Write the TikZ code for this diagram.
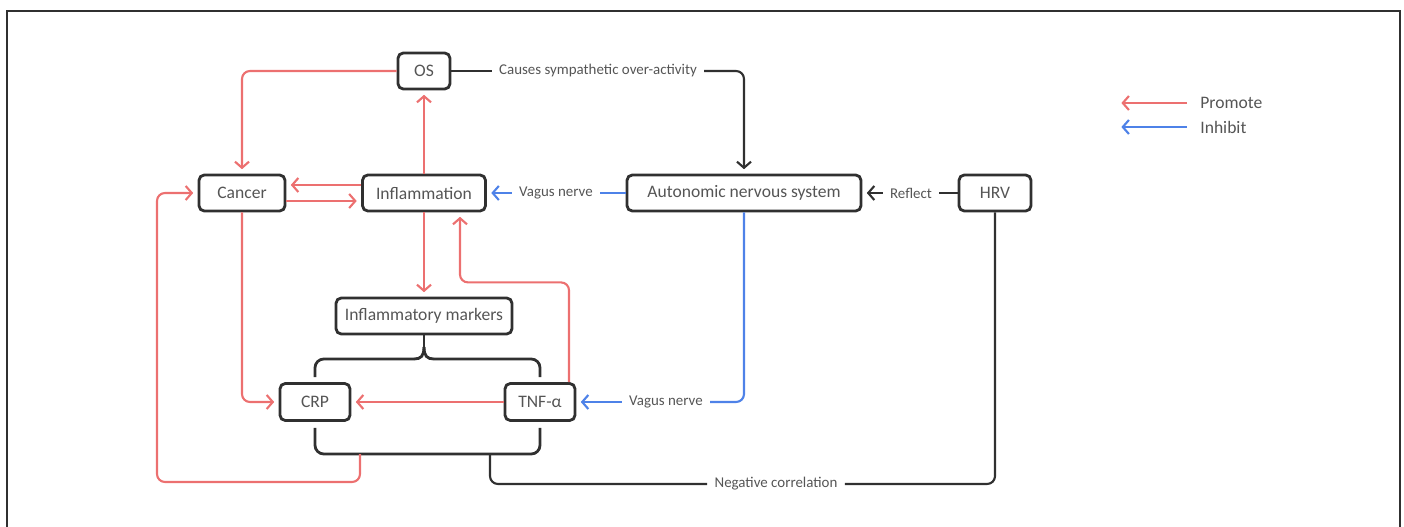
\documentclass[tikz,border=0pt]{standalone}
\usepackage{fontspec}
\setmainfont{Carlito}
\usetikzlibrary{calc, arrows.meta}

\definecolor{promotered}{RGB}{236,112,112}
\definecolor{inhibitblue}{RGB}{78,130,232}
\definecolor{boxgray}{RGB}{48,48,48}
\definecolor{textgray}{RGB}{85,85,85}

\begin{document}
\begin{tikzpicture}[x=0.02cm, y=-0.02cm,
  box/.style={draw=boxgray, line width=1.6pt, rounded corners=3pt, minimum height=0.72cm,
    text=textgray, font=\fontsize{10}{12}\selectfont},
  lab/.style={text=textgray, font=\fontsize{8.5}{10}\selectfont, inner sep=4pt},
  tip/.style={-{Straight Barb[length=3.5pt, width=8pt]}, shorten >=2.5pt},
  promote/.style={promotered, line width=1.2pt, rounded corners=4.5pt},
  inhibit/.style={inhibitblue, line width=1.2pt, rounded corners=4.5pt},
  link/.style={boxgray, line width=1.2pt, rounded corners=4.5pt},
  bracket/.style={boxgray, line width=1.6pt, rounded corners=5pt},
  curl/.style={boxgray, line width=1.6pt}]
  \useasboundingbox (0,0) rectangle (1404,527);

  % frame, open at the bottom
  \draw[boxgray, line width=1.1pt] (7,527) -- (7,11) -- (1400,11) -- (1400,527);

  % boxes
  \node[box, minimum width=1.04cm] (os)      at (424,71)  {OS};
  \node[box, minimum width=1.72cm] (cancer)  at (242,193) {Cancer};
  \node[box, minimum width=2.46cm] (infl)    at (424,193) {Inflammation};
  \node[box, minimum width=4.68cm] (ans)     at (744,193) {Autonomic nervous system};
  \node[box, minimum width=1.44cm] (hrv)     at (995,193) {HRV};
  \node[box, minimum width=3.52cm] (markers) at (424,316) {Inflammatory markers};
  \node[box, minimum width=1.40cm, minimum height=0.74cm] (crp) at (315,402) {CRP};
  \node[box, minimum width=1.40cm, minimum height=0.74cm] (tnf) at (540,402) {TNF-α};

  % edge labels
  \node[lab] (causes)   at (598,71)  {Causes sympathetic over-activity};
  \node[lab] (vagustop) at (556,193) {Vagus nerve};
  \node[lab] (reflect)  at (911,193) {Reflect};
  \node[lab] (vagusbot) at (666,402) {Vagus nerve};
  \node[lab] (negcorr)  at (776,484) {Negative correlation};

  % promote (red)
  \draw[promote, tip] (os.west) -| (cancer.north);
  \draw[promote, tip] (infl.north) -- (os.south);
  \draw[promote, tip] ([yshift=0.16cm]infl.west) -- ([yshift=0.16cm]cancer.east);
  \draw[promote, tip] ([yshift=-0.16cm]cancer.east) -- ([yshift=-0.16cm]infl.west);
  \draw[promote, tip] (infl.south) -- (markers.north);
  \draw[promote, tip] (cancer.south) |- (crp.west);
  \draw[promote, tip] (tnf.west) -- (crp.east);
  \draw[promote, tip] ([xshift=0.58cm]tnf.north) |- ($(infl.south)+(36,70)$) -- ([xshift=0.72cm]infl.south);

  % inhibit (blue)
  \draw[inhibit] (ans.west) -- (vagustop.east);
  \draw[inhibit, tip] (vagustop.west) -- (infl.east);
  \draw[inhibit] (ans.south) |- (vagusbot.east);
  \draw[inhibit, tip] (vagusbot.west) -- (tnf.east);

  % black links
  \draw[link] (os.east) -- (causes.west);
  \draw[link, tip] (causes.east) -| (ans.north);
  \draw[link] (hrv.west) -- (reflect.east);
  \draw[link, tip] (reflect.west) -- (ans.east);

  % brace over CRP and TNF
  \coordinate (bracetip) at (424,347);
  \draw[bracket] ($(crp.north)+(0,-5)$) -- (315,359) -- (414,359);
  \draw[bracket] ($(tnf.north)+(0,-5)$) -- (540,359) -- (434,359);
  \draw[curl] (414,359) .. controls (421,359) and (424,356) .. (bracetip);
  \draw[curl] (434,359) .. controls (427,359) and (424,356) .. (bracetip);
  \draw[curl] (bracetip) -- (markers.south);
  % lower bracket
  \draw[bracket] ($(crp.south)+(0,6)$) -- (315,454) -- (540,454) -- ($(tnf.south)+(0,6)$);

  % links from the lower bracket
  \coordinate (lowtap) at (360,454);
  \coordinate (negtap) at (490,454);
  \draw[promote, tip] (lowtap) |- (157,482) |- (cancer.west);
  \draw[link] (negtap) |- (negcorr.west);
  \draw[link] (negcorr.east) -| (hrv.south);

  % legend
  \node[text=textgray, font=\fontsize{10}{12}\selectfont, anchor=west, inner sep=0pt] (lgpromote) at (1200,103) {Promote};
  \node[text=textgray, font=\fontsize{10}{12}\selectfont, anchor=west, inner sep=0pt] (lginhibit) at (1200,127) {Inhibit};
  \draw[promote, tip] ([xshift=-0.26cm]lgpromote.west) -- ++(-70,0);
  \draw[inhibit, tip] ([xshift=-0.26cm]lginhibit.west) -- ++(-70,0);
\end{tikzpicture}
\end{document}
